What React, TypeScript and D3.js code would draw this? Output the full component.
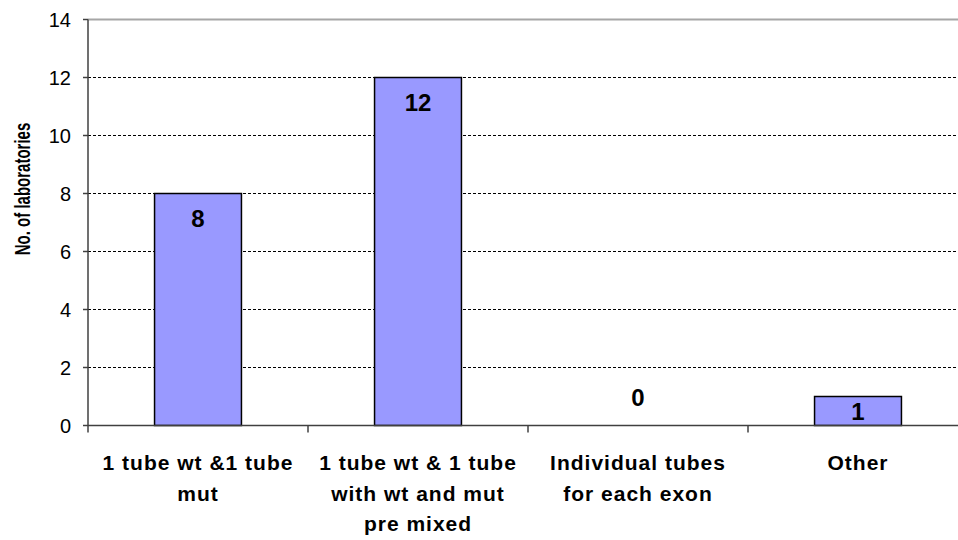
import React from "react";
import * as d3 from "d3";

// Survey responses: how laboratories set up their tubes
const categories = [
  "1 tube wt &1 tube mut",
  "1 tube wt & 1 tube with wt and mut pre mixed",
  "Individual tubes for each exon",
  "Other",
];
const categoryLines = [
  ["1 tube wt &1 tube", "mut"],
  ["1 tube wt & 1 tube", "with wt and mut", "pre mixed"],
  ["Individual tubes", "for each exon"],
  ["Other"],
];
const counts = [8, 12, 0, 1];
const yTicks = [0, 2, 4, 6, 8, 10, 12, 14];
const yTitle = "No. of laboratories";

const W = 958;
const H = 540;
const FONT = "'Liberation Sans', Arial, Helvetica, sans-serif";

export default function App() {
  const left = 88;
  const right = 968; // plot continues slightly past the visible edge
  const top = 19.5;
  const bottom = 425.5;

  const x = d3.scaleBand<string>().domain(categories).range([left, right]).padding(0);
  const y = d3.scaleLinear().domain([0, 14]).range([bottom, top]);
  const barW = x.bandwidth() * 0.395;

  const boundaries = categories.map((c) => x(c) as number);

  return (
    <svg
      width={W}
      height={H}
      style={{ position: "absolute", left: 0, top: 0, background: "#fff" }}
      fontFamily={FONT}
    >
      {/* gridlines */}
      {yTicks
        .filter((t) => t > 0 && t < 14)
        .map((t) => (
          <line
            key={"g" + t}
            x1={left}
            x2={W}
            y1={y(t)}
            y2={y(t)}
            stroke="#000"
            strokeWidth={1}
            strokeDasharray="3,2"
          />
        ))}
      <line x1={left} x2={W} y1={y(14)} y2={y(14)} stroke="#a6a6a6" strokeWidth={2} />

      {/* bars */}
      {categories.map((c, i) => {
        const cx = (x(c) as number) + x.bandwidth() / 2;
        const v = counts[i];
        if (v <= 0) return null;
        return (
          <rect
            key={"b" + i}
            x={cx - barW / 2}
            y={y(v)}
            width={barW}
            height={y(0) - y(v)}
            fill="#9999ff"
            stroke="#000"
            strokeWidth={1.5}
          />
        );
      })}

      {/* value labels */}
      {categories.map((c, i) => {
        const cx = (x(c) as number) + x.bandwidth() / 2;
        const v = counts[i];
        const yt = y(v);
        const base = v > 0 ? Math.min(yt + 33, (yt + y(0)) / 2 + 8.5) : y(0) - 19.5;
        return (
          <text
            key={"v" + i}
            x={cx}
            y={base}
            textAnchor="middle"
            fontSize={24}
            fontWeight="bold"
            fill="#000"
          >
            {v}
          </text>
        );
      })}

      {/* axes */}
      <line x1={left} x2={left} y1={top} y2={bottom} stroke="#404040" strokeWidth={1.5} />
      <line x1={left} x2={W} y1={bottom} y2={bottom} stroke="#404040" strokeWidth={1.5} />
      {yTicks.map((t) => (
        <g key={"yt" + t}>
          <line x1={left - 5} x2={left} y1={y(t)} y2={y(t)} stroke="#404040" strokeWidth={1.5} />
          <text x={71} y={y(t) + 7} textAnchor="end" fontSize={20} fill="#000">
            {t}
          </text>
        </g>
      ))}
      {boundaries.map((b, i) => (
        <line key={"xt" + i} x1={b} x2={b} y1={bottom} y2={bottom + 7} stroke="#404040" strokeWidth={1.5} />
      ))}

      {/* category labels */}
      {categories.map((c, i) => {
        const cx = (x(c) as number) + x.bandwidth() / 2;
        return (
          <text
            key={"c" + i}
            x={cx}
            textAnchor="middle"
            fontSize={21}
            fontWeight="bold"
            letterSpacing={1}
            fill="#000"
          >
            {categoryLines[i].map((ln, j) => (
              <tspan key={j} x={cx} y={470 + j * 30.5}>
                {ln}
              </tspan>
            ))}
          </text>
        );
      })}

      {/* y axis title: narrow, tall lettering */}
      <text
        transform={`translate(29.5, ${(top + bottom) / 2 - 33.5}) rotate(-90) scale(1, 1.5)`}
        textAnchor="middle"
        fontSize={15}
        fontWeight="bold"
        fill="#000"
      >
        {yTitle}
      </text>
    </svg>
  );
}
